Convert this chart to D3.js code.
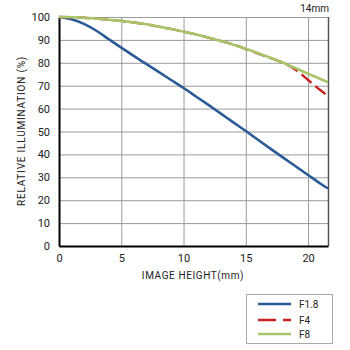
<!DOCTYPE html>
<html lang="en">
<head>
<meta charset="UTF-8">
<title>Relative Illumination 14mm</title>
<script src="https://d3js.org/d3.v7.min.js"></script>
<style>
  body { margin: 0; background: #fff; }
  svg { display: block; font-family: Roboto, "DejaVu Sans", sans-serif; }
</style>
</head>
<body>
<svg width="350" height="350"></svg>
<script>
// Data
const heights = [0, 1, 2, 3, 4, 5, 6, 7, 8, 9, 10, 11, 12, 13, 14, 15, 16, 17, 18, 19, 20, 21, 21.6];
const f18 = [100, 99, 97, 94, 90.3, 86.6, 83, 79.5, 76, 72.5, 69, 65.3, 61.6, 57.8, 54, 50.2, 46.3, 42.4, 38.6, 34.8, 31, 27.2, 25.1];
const f4  = [100, 99.9, 99.7, 99.3, 98.8, 98.3, 97.6, 96.8, 95.8, 94.8, 93.6, 92.4, 91, 89.5, 88, 86, 84, 82, 80, 77, 72.5, 68, 65.5];
const f8  = [100, 99.9, 99.7, 99.3, 98.8, 98.3, 97.6, 96.8, 95.8, 94.8, 93.6, 92.4, 91, 89.5, 87.9, 86.1, 84.2, 82.2, 80, 77.6, 75.2, 72.9, 71.5];
const xTicks = [0, 5, 10, 15, 20];
const yTicks = [0, 10, 20, 30, 40, 50, 60, 70, 80, 90, 100];
const seriesNames = ["F1.8", "F4", "F8"];

const svg = d3.select("svg");
const m = { left: 59, right: 328, top: 17, bottom: 246 };

const x = d3.scaleLinear().domain([0, 21.6]).range([m.left, m.right]);
const y = d3.scaleLinear().domain([0, 100]).range([m.bottom, m.top]);

// grid
svg.append("g").selectAll("line").data(yTicks).join("line")
  .attr("x1", m.left).attr("x2", m.right)
  .attr("y1", d => y(d) + 0.5).attr("y2", d => y(d) + 0.5)
  .attr("stroke", "#9a9a9a").attr("stroke-width", 1);
svg.append("g").selectAll("line").data(xTicks).join("line")
  .attr("y1", m.top).attr("y2", m.bottom)
  .attr("x1", d => x(d) + 0.5).attr("x2", d => x(d) + 0.5)
  .attr("stroke", "#9a9a9a").attr("stroke-width", 1);

// right border
svg.append("line")
  .attr("x1", m.right + 0.5).attr("x2", m.right + 0.5)
  .attr("y1", m.top).attr("y2", m.bottom)
  .attr("stroke", "#555").attr("stroke-width", 1.5);

// axes
const yAxis = svg.append("g").attr("transform", `translate(${m.left},0)`)
  .call(d3.axisLeft(y).tickValues(yTicks).tickSize(0).tickPadding(9));
const xAxis = svg.append("g").attr("transform", `translate(0,${m.bottom})`)
  .call(d3.axisBottom(x).tickValues(xTicks).tickSize(0).tickPadding(8));
[yAxis, xAxis].forEach(a => {
  a.select(".domain").attr("stroke", "#000").attr("stroke-width", 2);
  a.selectAll("text").attr("font-size", 11).attr("fill", "#222")
    .attr("font-family", "Roboto, 'DejaVu Sans', sans-serif");
});

// lines
const colors = ["#2b5b97", "#cc1f1f", "#a8c56a"];
const line = vals => d3.line().curve(d3.curveMonotoneX)
  .x((d, i) => x(heights[i])).y(d => y(d))(vals);

const plot = svg.append("g");
plot.append("path").attr("d", line(f18)).attr("fill", "none")
  .attr("stroke", colors[0]).attr("stroke-width", 2.6);
plot.append("path").attr("d", line(f4)).attr("fill", "none")
  .attr("stroke", colors[1]).attr("stroke-width", 2.4).attr("stroke-dasharray", "13,5");
plot.append("path").attr("d", line(f8)).attr("fill", "none")
  .attr("stroke", colors[2]).attr("stroke-width", 2.6);

// labels
svg.append("text").attr("x", 329).attr("y", 12).attr("text-anchor", "end")
  .attr("font-size", 10).attr("fill", "#222").text("14mm");
svg.append("text").attr("x", 193).attr("y", 279).attr("text-anchor", "middle")
  .attr("font-size", 10).attr("letter-spacing", 0.6).attr("fill", "#222").text("IMAGE HEIGHT(mm)");
svg.append("text").attr("transform", "translate(25,131) rotate(-90)").attr("text-anchor", "middle")
  .attr("font-size", 10).attr("letter-spacing", 0.8).attr("fill", "#222").text("RELATIVE ILLUMINATION (%)");

// legend
const lg = svg.append("g");
lg.append("rect").attr("x", 246.5).attr("y", 294.5).attr("width", 86).attr("height", 49)
  .attr("fill", "#fff").attr("stroke", "#aaa");
const ly = [304, 320, 334];
seriesNames.forEach((n, i) => {
  lg.append("line").attr("x1", 258).attr("x2", 291).attr("y1", ly[i]).attr("y2", ly[i])
    .attr("stroke", colors[i]).attr("stroke-width", 2.6)
    .attr("stroke-dasharray", i === 1 ? "18,7" : null);
  lg.append("text").attr("x", 299).attr("y", ly[i] + 4).attr("font-size", 10)
    .attr("fill", "#222").text(n);
});
</script>
</body>
</html>
